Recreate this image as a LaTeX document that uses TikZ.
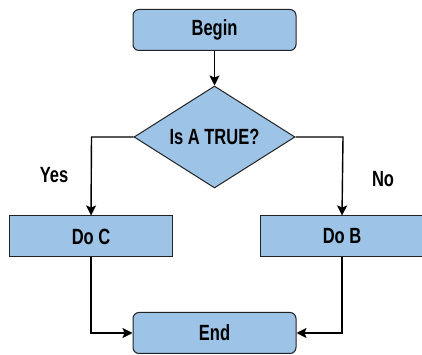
\documentclass[tikz,border=0pt]{standalone}
\usepackage{fontspec}
\setmainfont{Liberation Sans}[FakeStretch=0.75]
\usetikzlibrary{shapes.geometric,arrows.meta}
\definecolor{boxblue}{HTML}{9DC3E6}
\definecolor{edge}{HTML}{222222}
\tikzset{
  base/.style={draw=edge, line width=1pt, fill=boxblue, font=\fontsize{22}{26}\selectfont\bfseries, inner sep=0pt},
  term/.style={base, rectangle, rounded corners=6pt, minimum width=163pt, minimum height=41pt},
  proc/.style={base, rectangle, minimum width=163pt, minimum height=41pt},
  decision/.style={base, diamond, minimum width=161pt, minimum height=102pt, aspect=1.58},
  conn/.style={draw=black, line width=1.4pt, -{Stealth[length=10pt,width=10pt,inset=2pt]}},
  lbl/.style={font=\fontsize{22}{26}\selectfont\bfseries}
}
\begin{document}
\begin{tikzpicture}[x=1pt,y=1pt]
\useasboundingbox (0,0) rectangle (422,355);
\node[term] (begin) at (214.5,325) {Begin};
\node[decision] (dec) at (214.5,218) {Is A TRUE?};
\node[proc] (doc) at (91,118.5) {Do C};
\node[proc] (dob) at (342,118.5) {Do B};
\node[term] (end) at (214.5,22) {End};
\coordinate (lc) at (91.5,218);
\coordinate (rc) at (343,218);
\node[lbl] (yes) at (54,180) {Yes};
\node[lbl] (no) at (383,176) {No};
\draw[conn] (begin.south) -- (dec.north);
\draw[conn] (dec.west) -- (lc) -- (doc.north);
\draw[conn] (dec.east) -- (rc) -- (dob.north);
\draw[conn] (doc.south) |- (end.west);
\draw[conn] (dob.south) |- (end.east);
\end{tikzpicture}
\end{document}
